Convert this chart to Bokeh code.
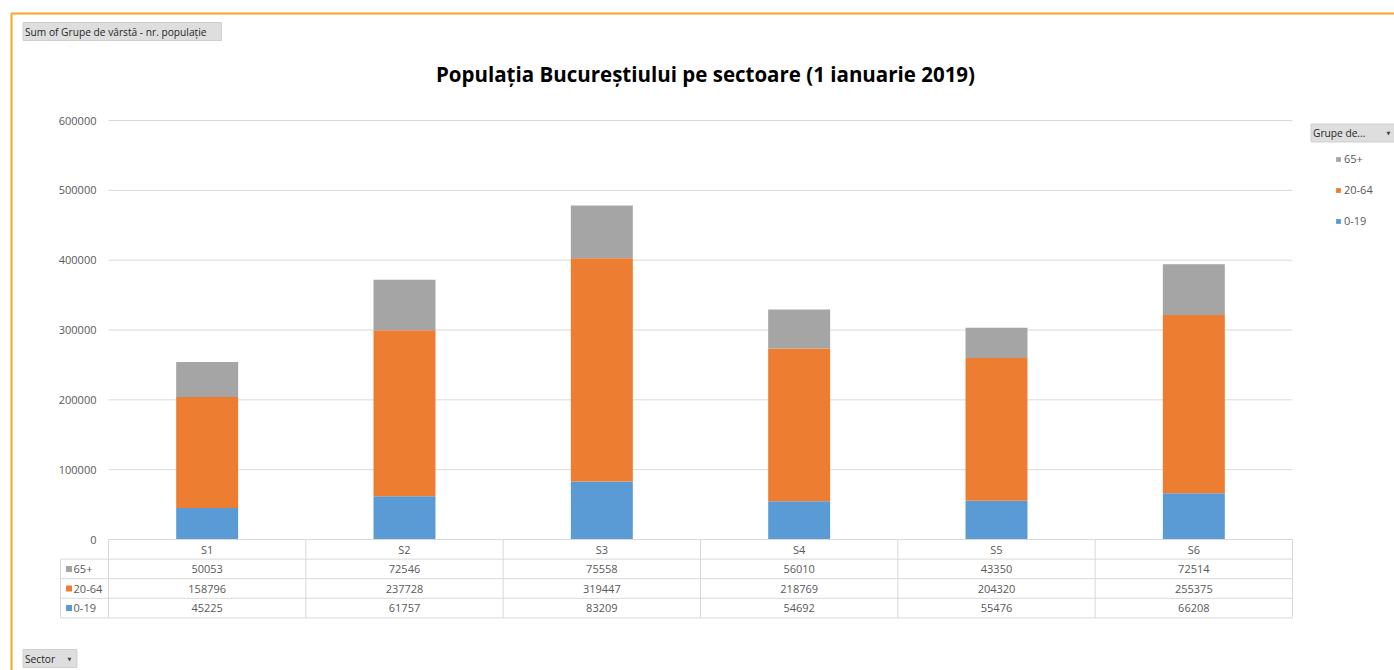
from bokeh.plotting import figure
from bokeh.models import (Range1d, FixedTicker, Label, BoxAnnotation, Legend, LegendItem,
                          ColumnDataSource, NumeralTickFormatter)
from bokeh.core.properties import value
from bokeh.embed import file_html
from bokeh.resources import INLINE

# ---------------- data ----------------
sectors = ["S1", "S2", "S3", "S4", "S5", "S6"]
age_0_19 = [45225, 61757, 83209, 54692, 55476, 66208]
age_20_64 = [158796, 237728, 319447, 218769, 204320, 255375]
age_65 = [50053, 72546, 75558, 56010, 43350, 72514]
groups = ["0-19", "20-64", "65+"]
colors = ["#5B9BD5", "#ED7D31", "#A5A5A5"]
y_ticks = [0, 100000, 200000, 300000, 400000, 500000, 600000]
title_text = "Populația Bucureștiului pe sectoare (1 ianuarie 2019)"
value_label = "Sum of Grupe de vârstă - nr. populație"
legend_title = "Grupe de..."
axis_field = "Sector"

FONT = "Open Sans"
GRAY_TXT = "#595959"
GRID = "#D9D9D9"

n = len(sectors)
x_left = -0.2432          # left edge of the table legend column (data units)
row_h = 28070             # table row height (data units)

W, H = 1394, 670
p = figure(width=W, height=H, output_backend="svg", toolbar_location=None,
           x_range=Range1d(-0.5473, n + 0.5169), y_range=Range1d(-187589, 771838),
           x_axis_location=None, min_border=0, min_border_left=0, min_border_right=0,
           min_border_top=0, min_border_bottom=0)
p.outline_line_color = None
p.xgrid.visible = False
p.ygrid.visible = False
p.background_fill_color = "white"
p.border_fill_color = "white"

# y axis, pinned at the left edge of the category columns
p.yaxis.fixed_location = 0
p.yaxis.ticker = FixedTicker(ticks=y_ticks)
p.yaxis.formatter = NumeralTickFormatter(format="0")
p.yaxis.axis_line_color = None
p.yaxis.major_tick_line_color = None
p.yaxis.minor_tick_line_color = None
p.yaxis.major_tick_out = 0
p.yaxis.major_tick_in = 0
p.yaxis.minor_tick_out = 0
p.yaxis.major_label_standoff = 12
p.yaxis.major_label_text_font = FONT
p.yaxis.major_label_text_font_size = "11px"
p.yaxis.major_label_text_color = GRAY_TXT

# gridlines (only across the category columns)
grid_y = [t for t in y_ticks if t > 0]
p.segment(x0=[0] * len(grid_y), x1=[n] * len(grid_y), y0=grid_y, y1=grid_y,
          line_color=GRID, line_width=1)

# stacked bars
xs = [i + 0.5 for i in range(n)]
src = ColumnDataSource(dict(x=xs, sector=sectors, **{"0-19": age_0_19, "20-64": age_20_64, "65+": age_65}))
rs = p.vbar_stack(groups, x="x", width=0.314, source=src, color=colors, line_color=None)

# ---------------- data table under the chart ----------------
hx0, hx1, hy = [0], [n], [0]
for k in range(1, 5):
    hx0.append(x_left); hx1.append(n); hy.append(-k * row_h)
p.segment(x0=hx0, x1=hx1, y0=hy, y1=hy, line_color=GRID, line_width=1)
vx = list(range(n + 1))
p.segment(x0=vx, x1=vx, y0=[0] * len(vx), y1=[-4 * row_h] * len(vx), line_color=GRID, line_width=1)
p.segment(x0=[x_left], x1=[x_left], y0=[-row_h], y1=[-4 * row_h], line_color=GRID, line_width=1)

p.text(x=xs, y=[-0.5 * row_h] * n, text=sectors, text_align="center", text_baseline="middle",
       text_font=value(FONT), text_font_size="11px", text_color=GRAY_TXT)
rows = [(age_65, "65+", colors[2]), (age_20_64, "20-64", colors[1]), (age_0_19, "0-19", colors[0])]
for r, (vals, name, col) in enumerate(rows):
    yc = -(r + 1.5) * row_h
    p.text(x=xs, y=[yc] * n, text=[str(v) for v in vals], text_align="center", text_baseline="middle",
           text_font=value(FONT), text_font_size="11px", text_color=GRAY_TXT)
    p.scatter(x=[-0.2], y=[yc], marker="square", size=6, color=col, line_color=None)
    p.text(x=[-0.177], y=[yc], text=[name], text_align="left", text_baseline="middle",
           text_font=value(FONT), text_font_size="11px", text_color=GRAY_TXT)

# ---------------- legend on the right ----------------
legend = Legend(items=[LegendItem(label="65+", renderers=[rs[2]]),
                       LegendItem(label="20-64", renderers=[rs[1]]),
                       LegendItem(label="0-19", renderers=[rs[0]])],
                location=(1335, 439), orientation="vertical",
                glyph_width=6, glyph_height=6, label_height=21, spacing=10,
                label_standoff=3, padding=0, margin=0,
                border_line_color=None, background_fill_alpha=0,
                label_text_font=FONT, label_text_font_size="11px", label_text_color=GRAY_TXT)
p.add_layout(legend)

# ---------------- pivot-chart decorations ----------------
def cbox(l, r, t, b, **kw):
    return BoxAnnotation(left=l, right=r, top=t, bottom=b,
                         left_units="canvas", right_units="canvas", top_units="canvas", bottom_units="canvas",
                         level="underlay", line_alpha=1, **kw)

p.add_layout(cbox(11, 1600, 13, 900, fill_alpha=0, line_color="#F5A623", line_width=2))

def button(l, r, t, b, text, arrow_x=None):
    p.add_layout(cbox(l, r, t, b, fill_color="#DEDEDE", fill_alpha=1, line_color="#D0D0D0", line_width=1))
    p.add_layout(Label(x=l + 2, y=(t + b) / 2, x_units="canvas", y_units="canvas", text=text,
                       text_font=FONT, text_font_size="10.2px", text_color="#262626",
                       text_baseline="middle", text_align="left"))
    if arrow_x is not None:
        p.add_layout(Label(x=arrow_x, y=(t + b) / 2, x_units="canvas", y_units="canvas", text="▼",
                           text_font="DejaVu Sans", text_font_size="5px", text_color="#404040",
                           text_baseline="middle", text_align="center"))

button(22.5, 221, 22, 40, value_label)
button(1310.5, 1400, 123.5, 141.5, legend_title, 1388)
button(22.5, 76.5, 649, 667, axis_field, 69)

p.add_layout(Label(x=705, y=73, x_units="canvas", y_units="canvas", text=title_text,
                   text_font=FONT, text_font_style="bold", text_font_size="20.5px", text_color="#000000",
                   text_align="center", text_baseline="middle"))

open("out.html", "w").write(file_html(p, INLINE))
